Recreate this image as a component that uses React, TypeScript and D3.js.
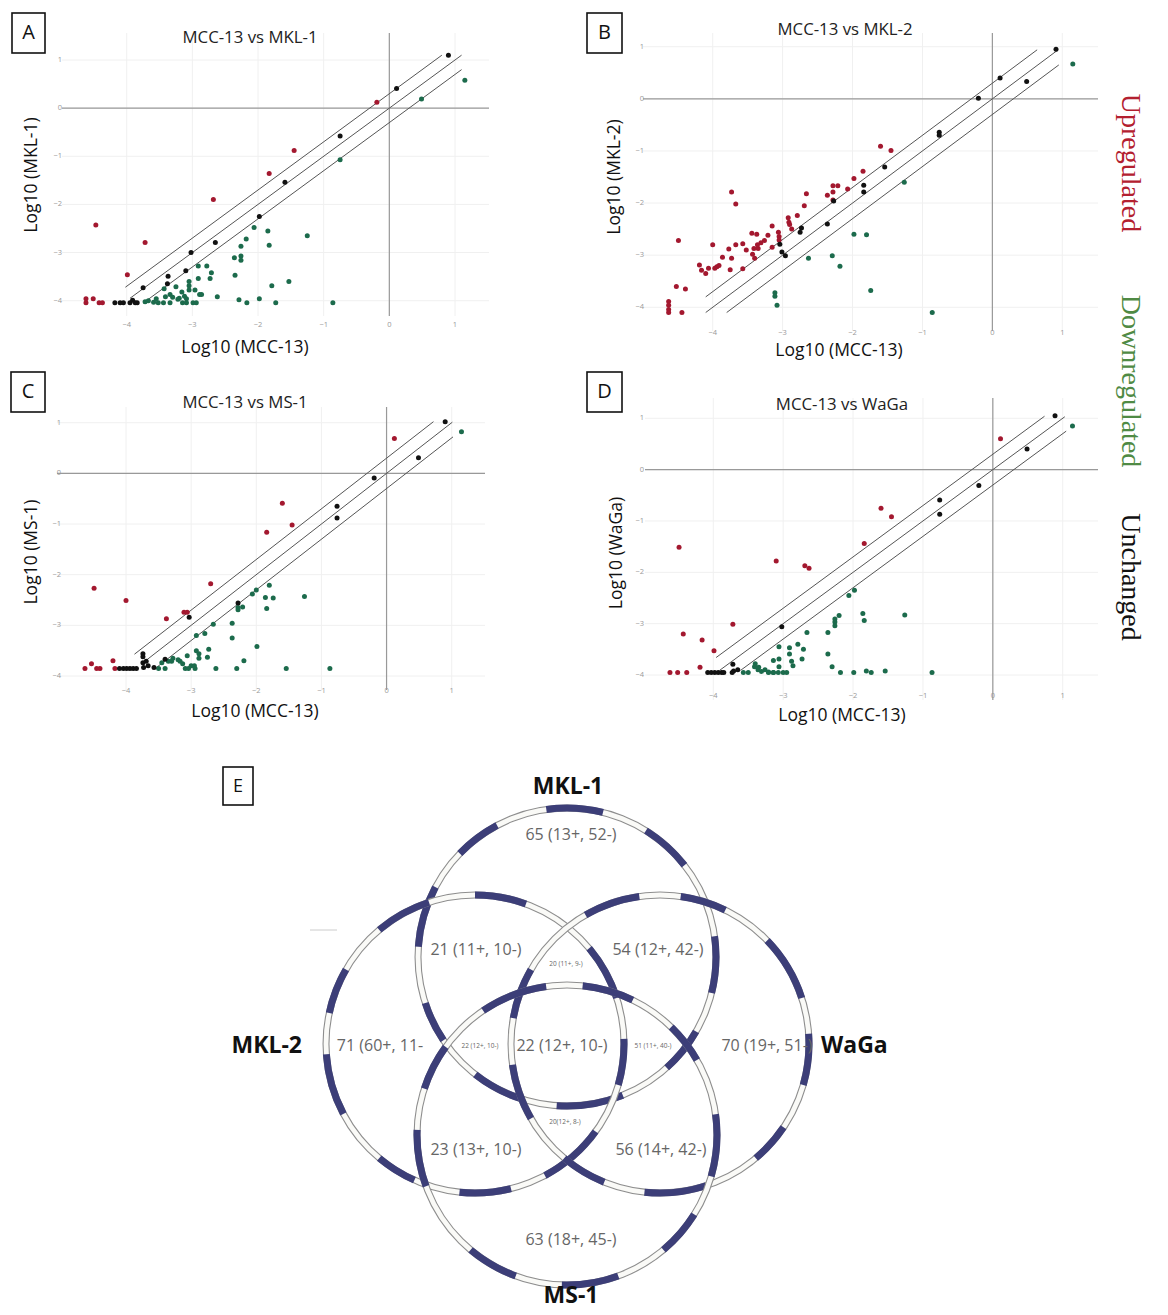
import React from 'react';
import * as d3 from 'd3';

type Pt = [number, number];

// ---------- Panel data (log10 values) ----------
const upA: Pt[] = [[-4.47,-2.43],[-3.72,-2.79],[-3.99,-3.46],[-2.68,-1.90],[-1.83,-1.36],[-1.45,-0.88],[-0.19,0.12],[-4.62,-3.96],[-4.62,-4.04],[-4.51,-3.96],[-4.42,-4.04],[-4.37,-4.04]];
const sameA: Pt[] = [[0.90,1.10],[0.11,0.41],[-0.75,-0.58],[-1.59,-1.54],[-1.98,-2.25],[-2.65,-2.79],[-3.02,-3.00],[-3.10,-3.38],[-3.37,-3.49],[-3.38,-3.65],[-3.75,-3.73],[-4.18,-4.04],[-4.10,-4.04],[-4.05,-4.04],[-3.95,-4.04],[-3.91,-3.99],[-3.87,-4.04],[-3.84,-4.04]];
const downA: Pt[] = [[1.15,0.58],[0.49,0.19],[-0.75,-1.07],[-2.06,-2.48],[-1.85,-2.55],[-2.18,-2.72],[-1.25,-2.65],[-2.26,-2.87],[-1.83,-2.85],[-2.36,-3.11],[-2.26,-3.07],[-2.26,-3.16],[-2.91,-3.28],[-2.78,-3.28],[-2.71,-3.42],[-2.35,-3.47],[-2.91,-3.54],[-2.73,-3.54],[-3.05,-3.60],[-3.05,-3.69],[-3.05,-3.78],[-3.43,-3.75],[-3.25,-3.71],[-3.16,-3.82],[-3.34,-3.87],[-3.41,-3.92],[-2.89,-3.87],[-2.86,-3.87],[-2.96,-3.78],[-3.12,-3.91],[-3.09,-3.96],[-3.30,-3.93],[-3.22,-3.97],[-1.79,-3.69],[-1.53,-3.60],[-2.62,-3.92],[-2.29,-3.98],[-1.98,-3.96],[-2.17,-4.04],[-1.73,-4.04],[-0.86,-4.04],[-3.72,-4.02],[-3.67,-4.00],[-3.59,-4.03],[-3.52,-4.04],[-3.44,-4.04],[-3.34,-4.04],[-3.15,-4.04],[-3.09,-4.04],[-2.99,-4.04],[-2.94,-4.04],[-3.55,-3.96],[-3.20,-3.95]];

const upB: Pt[] = [[-1.60,-0.91],[-1.45,-0.99],[-1.85,-1.39],[-1.98,-1.53],[-2.07,-1.73],[-2.28,-1.67],[-2.21,-1.67],[-2.28,-1.79],[-2.36,-1.85],[-2.28,-1.94],[-2.66,-1.82],[-2.69,-2.05],[-3.73,-1.79],[-3.67,-2.02],[-2.79,-2.24],[-2.92,-2.28],[-2.91,-2.37],[-2.90,-2.41],[-2.87,-2.50],[-3.15,-2.44],[-3.44,-2.58],[-3.37,-2.60],[-3.21,-2.62],[-3.06,-2.56],[-3.05,-2.64],[-3.05,-2.71],[-3.26,-2.72],[-3.31,-2.76],[-3.35,-2.87],[-3.41,-2.87],[-3.36,-2.80],[-3.15,-2.85],[-4.49,-2.72],[-4.00,-2.80],[-3.67,-2.80],[-3.77,-2.88],[-3.57,-2.78],[-3.52,-2.90],[-3.43,-2.98],[-3.40,-3.06],[-3.86,-3.04],[-3.73,-3.06],[-3.75,-3.28],[-3.57,-3.26],[-4.19,-3.19],[-4.16,-3.29],[-4.10,-3.35],[-4.06,-3.25],[-3.97,-3.25],[-3.94,-3.22],[-3.91,-3.20],[-4.52,-3.60],[-4.39,-3.65],[-4.63,-3.89],[-4.63,-3.96],[-4.63,-4.04],[-4.63,-4.10],[-4.44,-4.10]];
const sameB: Pt[] = [[0.91,0.95],[0.11,0.40],[-0.20,0.01],[0.49,0.33],[-0.76,-0.64],[-0.76,-0.70],[-1.54,-1.31],[-1.84,-1.66],[-1.84,-1.79],[-2.27,-1.96],[-2.36,-2.40],[-2.73,-2.48],[-2.75,-2.56],[-3.04,-2.79],[-3.01,-2.94],[-2.96,-3.01]];
const downB: Pt[] = [[1.15,0.67],[-1.26,-1.60],[-1.98,-2.60],[-1.80,-2.61],[-2.63,-3.06],[-2.29,-3.01],[-2.18,-3.21],[-3.11,-3.72],[-3.11,-3.79],[-3.08,-3.96],[-1.74,-3.68],[-0.86,-4.10]];

const upC: Pt[] = [[0.12,0.69],[-1.60,-0.59],[-1.45,-1.02],[-1.84,-1.16],[-2.70,-2.18],[-4.49,-2.27],[-4.00,-2.51],[-3.11,-2.74],[-3.06,-2.74],[-3.38,-2.87],[-4.20,-3.70],[-4.53,-3.76],[-4.63,-3.85],[-4.45,-3.85],[-4.40,-3.85],[-4.17,-3.85]];
const sameC: Pt[] = [[0.90,1.02],[0.49,0.31],[-0.19,-0.09],[-0.76,-0.65],[-0.76,-0.88],[-2.28,-2.56],[-3.03,-2.84],[-3.40,-3.67],[-3.74,-3.56],[-3.74,-3.62],[-3.74,-3.74],[-3.69,-3.71],[-3.73,-3.83],[-3.66,-3.80],[-3.57,-3.83],[-4.10,-3.85],[-4.04,-3.85],[-3.99,-3.85],[-3.94,-3.85],[-3.89,-3.85],[-3.84,-3.85]];
const downC: Pt[] = [[1.15,0.82],[-1.26,-2.43],[-1.80,-2.21],[-1.86,-2.45],[-1.74,-2.46],[-1.84,-2.67],[-2.00,-2.30],[-2.06,-2.38],[-2.28,-2.65],[-2.28,-2.69],[-2.21,-2.64],[-2.19,-3.70],[-1.99,-3.42],[-2.37,-2.96],[-2.37,-3.25],[-2.66,-2.98],[-2.79,-3.16],[-2.92,-3.20],[-2.73,-3.47],[-2.75,-3.63],[-2.92,-3.50],[-2.88,-3.56],[-2.88,-3.65],[-3.06,-3.60],[-3.17,-3.71],[-3.13,-3.76],[-3.28,-3.65],[-3.35,-3.71],[-3.30,-3.71],[-3.00,-3.80],[-2.95,-3.80],[-2.30,-3.85],[-1.54,-3.85],[-0.87,-3.85],[-2.62,-3.85],[-3.50,-3.85],[-3.40,-3.85],[-3.09,-3.85],[-3.04,-3.85],[-2.94,-3.85],[-3.45,-3.74],[-3.20,-3.68]];

const upD: Pt[] = [[0.11,0.60],[-1.60,-0.75],[-1.45,-0.92],[-1.84,-1.44],[-4.49,-1.51],[-3.10,-1.78],[-2.69,-1.87],[-2.63,-1.92],[-3.72,-3.01],[-4.43,-3.20],[-4.16,-3.32],[-3.99,-3.53],[-4.19,-3.85],[-4.62,-3.95],[-4.51,-3.95],[-4.38,-3.95]];
const sameD: Pt[] = [[0.89,1.05],[0.49,0.40],[-0.20,-0.31],[-0.76,-0.59],[-0.76,-0.87],[-3.02,-3.06],[-3.72,-3.79],[-3.71,-3.92],[-3.65,-3.90],[-3.73,-3.95],[-4.08,-3.95],[-4.03,-3.95],[-3.98,-3.95],[-3.93,-3.95],[-3.88,-3.95],[-3.85,-3.95]];
const downD: Pt[] = [[1.14,0.85],[-1.26,-2.83],[-2.06,-2.45],[-1.98,-2.35],[-1.86,-2.80],[-1.84,-2.94],[-2.20,-2.84],[-2.26,-2.91],[-2.26,-2.97],[-2.26,-3.04],[-2.36,-3.17],[-2.66,-3.17],[-2.36,-3.59],[-2.30,-3.84],[-2.18,-3.95],[-1.99,-3.95],[-1.81,-3.92],[-1.74,-3.95],[-1.54,-3.92],[-0.87,-3.95],[-3.06,-3.45],[-2.91,-3.47],[-2.91,-3.59],[-2.88,-3.73],[-3.06,-3.69],[-3.06,-3.84],[-3.14,-3.72],[-2.79,-3.40],[-2.71,-3.50],[-2.73,-3.69],[-2.86,-3.82],[-3.41,-3.84],[-3.36,-3.90],[-3.31,-3.93],[-3.26,-3.90],[-3.21,-3.94],[-3.14,-3.95],[-3.57,-3.95],[-3.50,-3.95],[-3.21,-3.95],[-3.14,-3.95],[-3.07,-3.95],[-3.00,-3.95],[-2.95,-3.95],[-3.40,-3.78],[-3.35,-3.85]];

// fold-change guide lines: offsets and x extents (upper, identity, lower)
const guideOffsets = [0.3, 0, -0.3];
const guideA: Pt[] = [[-4.02,0.80],[-3.95,1.10],[-3.74,1.10]];
const guideB: Pt[] = [[-4.10,0.64],[-4.10,0.93],[-3.80,0.95]];
const guideC: Pt[] = [[-3.87,0.72],[-3.74,1.01],[-3.53,1.02]];
const guideD: Pt[] = [[-3.96,0.74],[-3.91,1.03],[-3.61,1.05]];

const ticks = [-4, -3, -2, -1, 0, 1];

// ---------- Venn data ----------
const vennSets = ['MKL-1', 'MKL-2', 'WaGa', 'MS-1'];
const vennCounts = ['65 (13+, 52-)', '21 (11+, 10-)', '54 (12+, 42-)', '20 (11+, 9-)', '71 (60+, 11-', '22 (12+, 10-)', '22 (12+, 10-)', '51 (11+, 40-)', '70 (19+, 51-)', '20(12+, 8-)', '23 (13+, 10-)', '56 (14+, 42-)', '63 (18+, 45-)'];
const vennSmall = [false, false, false, true, false, true, false, true, false, true, false, false, false];

const legendLabels = ['Upregulated', 'Downregulated', 'Unchanged'];

// ---------- Layout ----------
const RED = '#a3182f';
const GREEN = '#1c6b4c';
const BLACK = '#111';
const NAVY = '#3c3e78';

const panels = [
  { id: 'A', title: 'MCC-13 vs MKL-1', ylab: 'Log10 (MKL-1)', up: upA, down: downA, same: sameA, guide: guideA,
    box: [12, 13, 33, 40], xr: [126.7, 455], yr: [300.7, 60], plot: [62, 489, 33, 316],
    titleXY: [250, 38], xlabXY: [245, 348], ylabXY: [32, 175], xtickY: 325, ytickX: 62 },
  { id: 'B', title: 'MCC-13 vs MKL-2', ylab: 'Log10 (MKL-2)', up: upB, down: downB, same: sameB, guide: guideB,
    box: [587, 13, 35, 40], xr: [712.7, 1062.3], yr: [307.3, 46.7], plot: [643, 1098, 33, 331],
    titleXY: [845, 30], xlabXY: [839, 351], ylabXY: [615, 177], xtickY: 333, ytickX: 644 },
  { id: 'C', title: 'MCC-13 vs MS-1', ylab: 'Log10 (MS-1)', up: upC, down: downC, same: sameC, guide: guideC,
    box: [11, 372, 34, 40], xr: [126, 451.7], yr: [676, 422.7], plot: [57, 485, 407, 690],
    titleXY: [245, 403], xlabXY: [255, 712], ylabXY: [32, 552], xtickY: 691, ytickX: 61 },
  { id: 'D', title: 'MCC-13 vs WaGa', ylab: 'Log10 (WaGa)', up: upD, down: downD, same: sameD, guide: guideD,
    box: [587, 372, 35, 40], xr: [713.3, 1062.7], yr: [675, 418.3], plot: [645, 1098, 398, 700],
    titleXY: [842, 405], xlabXY: [842, 716], ylabXY: [617, 553], xtickY: 696, ytickX: 644 },
];

const FONT = "'Open Sans', 'Noto Sans', sans-serif";

function Scatter({ p }: { p: any }) {
  const x = d3.scaleLinear().domain([-4, 1]).range(p.xr);
  const y = d3.scaleLinear().domain([-4, 1]).range(p.yr);
  const [L, R, T, B] = p.plot;
  const line = d3.line<Pt>().x(d => x(d[0])).y(d => y(d[1]));
  const dot = (d: Pt, i: number, c: string) => (
    <circle key={c + i} cx={x(d[0])} cy={y(d[1])} r={2.5} fill={c} />
  );
  return (
    <g>
      <rect x={p.box[0]} y={p.box[1]} width={p.box[2]} height={p.box[3]} fill="none" stroke="#111" strokeWidth={1.6} />
      <text x={p.box[0] + p.box[2] / 2} y={p.box[1] + p.box[3] / 2 + 1} textAnchor="middle" dominantBaseline="middle"
        fontFamily={FONT} fontSize={20} fill="#111">{p.id}</text>
      {ticks.map(t => (
        <line key={'gx' + t} x1={x(t)} x2={x(t)} y1={T} y2={B} stroke="#f0f0f0" strokeWidth={1} />
      ))}
      {ticks.map(t => (
        <line key={'gy' + t} x1={L} x2={R} y1={y(t)} y2={y(t)} stroke="#f0f0f0" strokeWidth={1} />
      ))}
      <line x1={L} x2={R} y1={y(0)} y2={y(0)} stroke="#999" strokeWidth={1.2} />
      <line x1={x(0)} x2={x(0)} y1={T} y2={B} stroke="#999" strokeWidth={1.2} />
      {ticks.map(t => (
        <text key={'tx' + t} x={x(t)} y={p.xtickY} textAnchor="middle" dominantBaseline="middle"
          fontFamily={FONT} fontSize={7.5} fill="#999">{t < 0 ? '\u2212' + Math.abs(t) : t}</text>
      ))}
      {ticks.map(t => (
        <text key={'ty' + t} x={p.ytickX} y={y(t)} textAnchor="end" dominantBaseline="middle"
          fontFamily={FONT} fontSize={7.5} fill="#999">{t < 0 ? '\u2212' + Math.abs(t) : t}</text>
      ))}
      {p.guide.map((g: Pt, i: number) => {
        const off = guideOffsets[i];
        const pts: Pt[] = [[g[0], g[0] + off], [g[1], g[1] + off]];
        return <path key={'g' + i} d={line(pts) || ''} stroke="#555" strokeWidth={1} fill="none" />;
      })}
      {p.down.map((d: Pt, i: number) => dot(d, i, GREEN))}
      {p.up.map((d: Pt, i: number) => dot(d, i, RED))}
      {p.same.map((d: Pt, i: number) => dot(d, i, BLACK))}
      <text x={p.titleXY[0]} y={p.titleXY[1]} textAnchor="middle" dominantBaseline="middle"
        fontFamily={FONT} fontSize={16.8} fill="#222">{p.title}</text>
      <text x={p.xlabXY[0]} y={p.xlabXY[1]} textAnchor="middle" dominantBaseline="middle"
        fontFamily={FONT} fontSize={17.5} fill="#111">Log10 (MCC-13)</text>
      <text transform={`translate(${p.ylabXY[0]},${p.ylabXY[1]}) rotate(-90)`} textAnchor="middle" dominantBaseline="middle"
        fontFamily={FONT} fontSize={17.5} fontWeight={500} fill="#111">{p.ylab}</text>
    </g>
  );
}

// Venn layout
const vennCircles = [
  { cx: 567, cy: 957, r: 149, offset: 8 },
  { cx: 475, cy: 1044, r: 149, offset: 40 },
  { cx: 660, cy: 1044, r: 149, offset: 120 },
  { cx: 567, cy: 1135, r: 150, offset: 200 },
];
const vennSetLabelPos = [
  { x: 568, y: 788, anchor: 'middle' },
  { x: 302, y: 1047, anchor: 'end' },
  { x: 821, y: 1047, anchor: 'start' },
  { x: 571, y: 1297, anchor: 'middle' },
];
const vennCountPos = [
  [571, 836], [476, 951], [658, 951], [566, 964], [380, 1047], [480, 1046], [562, 1047], [653, 1046],
  [767, 1047], [565, 1122], [476, 1151], [661, 1151], [571, 1241],
];
const dashPattern = [22, 16, 18, 20, 26, 14, 20, 18, 16, 22, 24, 16, 18, 20, 22, 18, 20, 30];

function Ring({ c }: { c: any }) {
  return (
    <g>
      <circle cx={c.cx} cy={c.cy} r={c.r} fill="none" stroke="#8e8e8e" strokeWidth={7} />
      <circle cx={c.cx} cy={c.cy} r={c.r} fill="none" stroke="#fafaf7" strokeWidth={4.8} />
      <circle cx={c.cx} cy={c.cy} r={c.r} fill="none" stroke={NAVY} strokeWidth={7}
        pathLength={360} strokeDasharray={dashPattern.join(' ')} strokeDashoffset={c.offset} />
    </g>
  );
}

export default function App() {
  return (
    <svg width={1168} height={1315} style={{ position: 'absolute', left: 0, top: 0, background: '#fff' }}>
      <rect width={1168} height={1315} fill="#fff" />
      {panels.map(p => <Scatter key={p.id} p={p} />)}
      {/* right legend */}
      {legendLabels.map((t, i) => (
        <text key={t} transform={`translate(1128,${[163, 381, 577][i]}) rotate(90)`} textAnchor="middle" dominantBaseline="middle"
          fontFamily="'Liberation Serif', 'DejaVu Serif', serif" fontSize={28}
          fill={[ '#b3202f', '#4f8a44', '#111' ][i]}>{t}</text>
      ))}
      {/* Venn */}
      <rect x={223} y={767} width={30} height={38} fill="none" stroke="#111" strokeWidth={1.6} />
      <text x={238} y={787} textAnchor="middle" dominantBaseline="middle" fontFamily={FONT} fontSize={18} fill="#111">E</text>
      <line x1={310} x2={337} y1={930} y2={930} stroke="#ccc" strokeWidth={1} />
      {vennCircles.map((c, i) => <Ring key={i} c={c} />)}
      {vennSets.map((s, i) => (
        <text key={s} x={vennSetLabelPos[i].x} y={vennSetLabelPos[i].y} textAnchor={vennSetLabelPos[i].anchor as any}
          dominantBaseline="middle" fontFamily={FONT} fontWeight={700} fontSize={23} fill="#111">{s}</text>
      ))}
      {vennCounts.map((t, i) => (
        <text key={'vc' + i} x={vennCountPos[i][0]} y={vennCountPos[i][1]} textAnchor="middle" dominantBaseline="middle"
          fontFamily={FONT} fontWeight={400} fontSize={vennSmall[i] ? 6.5 : 16} fill="#666">{t}</text>
      ))}
    </svg>
  );
}
